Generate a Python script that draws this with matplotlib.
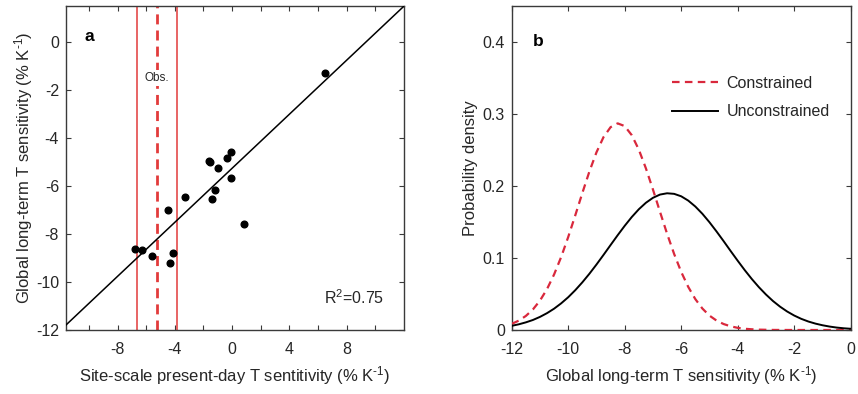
import numpy as np
import matplotlib
matplotlib.use("Agg")
import matplotlib.pyplot as plt

plt.rcParams['font.family'] = ['Liberation Sans', 'DejaVu Sans']
plt.rcParams['axes.unicode_minus'] = False
plt.rcParams['mathtext.fontset'] = 'custom'
plt.rcParams['mathtext.rm'] = 'Liberation Sans'
plt.rcParams['mathtext.it'] = 'Liberation Sans:italic'
plt.rcParams['mathtext.bf'] = 'Liberation Sans:bold'

# ---------------- Panel a data ----------------
site_sens = [6.51, -1.61, -1.52, -0.06, -0.36, -0.96, -0.10, -1.17, -1.41,
             -3.31, -4.47, 0.80, -6.79, -6.30, -5.58, -4.12, -4.35]
global_sens = [-1.30, -4.96, -5.00, -4.57, -4.82, -5.25, -5.65, -6.17, -6.55,
               -6.47, -7.00, -7.57, -8.61, -8.67, -8.90, -8.79, -9.22]
fit_slope = 0.563
fit_intercept = -5.26
obs_mean = -5.23
obs_low = -6.63
obs_high = -3.84
r2_text = "R$^2$=0.75"

# ---------------- Panel b data ----------------
pdf_x = [-12.0, -11.75, -11.5, -11.25, -11.0, -10.75, -10.5, -10.25, -10.0,
         -9.75, -9.5, -9.25, -9.0, -8.75, -8.5, -8.25, -8.0, -7.75, -7.5,
         -7.25, -7.0, -6.75, -6.5, -6.25, -6.0, -5.75, -5.5, -5.25, -5.0,
         -4.75, -4.5, -4.25, -4.0, -3.75, -3.5, -3.25, -3.0, -2.75, -2.5,
         -2.25, -2.0, -1.75, -1.5, -1.25, -1.0, -0.75, -0.5, -0.25, 0.0]
constrained = [0.0085, 0.0130, 0.0195, 0.0285, 0.0408, 0.0568, 0.0771, 0.1013,
               0.1291, 0.1592, 0.1902, 0.2201, 0.2467, 0.2679, 0.2817, 0.2870,
               0.2832, 0.2706, 0.2505, 0.2246, 0.1951, 0.1641, 0.1337, 0.1056,
               0.0807, 0.0598, 0.0429, 0.0298, 0.0200, 0.0131, 0.0083, 0.0051,
               0.0030, 0.0017, 0.0010, 0.0005, 0.0003, 0.0001, 0.00005, 0.00002,
               0.00001, 0.0, 0.0, 0.0, 0.0, 0.0, 0.0, 0.0, 0.0]
unconstrained = [0.0058, 0.0079, 0.0106, 0.0139, 0.0182, 0.0234, 0.0296, 0.0370,
                 0.0455, 0.0553, 0.0662, 0.0781, 0.0909, 0.1043, 0.1180, 0.1316,
                 0.1447, 0.1569, 0.1677, 0.1767, 0.1836, 0.1881, 0.1899, 0.1891,
                 0.1857, 0.1797, 0.1715, 0.1614, 0.1497, 0.1369, 0.1235, 0.1097,
                 0.0962, 0.0831, 0.0708, 0.0595, 0.0493, 0.0402, 0.0324, 0.0257,
                 0.0201, 0.0155, 0.0118, 0.0089, 0.0066, 0.0048, 0.0034, 0.0024,
                 0.0017]

a_xticks = [-10, -8, -6, -4, -2, 0, 2, 4, 6, 8, 10]
a_xlabels = ['', '-8', '', '-4', '', '0', '', '4', '', '8', '']
a_yticks = [-12, -10, -8, -6, -4, -2, 0]
b_xticks = [-12, -10, -8, -6, -4, -2, 0]
b_yticks = [0, 0.1, 0.2, 0.3, 0.4]

W, H = 858, 394
fig = plt.figure(figsize=(W / 100, H / 100), dpi=100)

txt_col = '#262626'
frame_col = '#3a3a3a'
red_obs = '#e23b3b'
red_pdf = '#d9283c'
fs = 11.5
fs_lab = 12
sup = 'K$^{\\text{-}1}$'


def style(ax):
    for s in ax.spines.values():
        s.set_color(frame_col)
        s.set_linewidth(1.0)
    ax.tick_params(direction='in', top=True, right=True, length=3.5,
                   width=0.8, colors=frame_col, labelcolor=txt_col,
                   labelsize=fs)
    ax.tick_params(axis='x', pad=9)
    ax.tick_params(axis='y', pad=5)


# ---- panel a ----
axa = fig.add_axes([66 / W, 1 - 330 / H, (404 - 66) / W, (330 - 6) / H])
xlim_a = (-11.6, 12.0)
axa.set_xlim(*xlim_a)
axa.set_ylim(-12, 1.5)
xx = np.array(xlim_a)
axa.plot(xx, fit_intercept + fit_slope * xx, color='black', lw=1.1, zorder=3)
axa.axvline(obs_low, color=red_obs, lw=1.1, zorder=2)
axa.axvline(obs_high, color=red_obs, lw=1.1, zorder=2)
axa.axvline(obs_mean, color=red_obs, lw=2.0, linestyle=(0, (3.6, 2.2)), zorder=2)
axa.plot(site_sens, global_sens, 'o', color='black', ms=4.8, zorder=4)
axa.text(obs_mean, -1.5, 'Obs.', ha='center', va='center', fontsize=8.5,
         color=txt_col, zorder=5,
         bbox=dict(facecolor='white', edgecolor='none', pad=1.5))
axa.text(6.4, -10.9, r2_text, ha='left', va='baseline', fontsize=fs, color=txt_col)
axa.text(-10.3, 0.05, 'a', fontsize=12.5, fontweight='bold', color='black',
         ha='left', va='baseline')
axa.set_xticks(a_xticks)
axa.set_xticklabels(a_xlabels)
axa.set_yticks(a_yticks)
style(axa)
axa.set_xlabel('Site-scale present-day T sentitivity (% ' + sup + ')',
               fontsize=fs_lab, color=txt_col, labelpad=5)
axa.set_ylabel('Global long-term T sensitivity (% ' + sup + ')',
               fontsize=fs_lab, color=txt_col, labelpad=1)

# ---- panel b ----
axb = fig.add_axes([511.7 / W, 1 - 330 / H, (850.7 - 511.7) / W, (330 - 6) / H])
axb.set_xlim(-12, 0)
axb.set_ylim(0, 0.45)
axb.plot(pdf_x, constrained, color=red_pdf, lw=1.6,
         linestyle=(0, (3.4, 2.4)), label='Constrained', zorder=3)
axb.plot(pdf_x, unconstrained, color='black', lw=1.4, label='Unconstrained',
         zorder=3)
axb.set_xticks(b_xticks)
axb.set_yticks(b_yticks)
axb.set_yticklabels(['0', '0.1', '0.2', '0.3', '0.4'])
style(axb)
axb.text(-11.25, 0.395, 'b', fontsize=12.5, fontweight='bold', color='black',
         ha='left', va='baseline')
leg = axb.legend(loc='upper left', bbox_to_anchor=(0.473, 0.785), frameon=False,
                 fontsize=fs, handlelength=2.9, handletextpad=0.5,
                 labelspacing=0.85, borderpad=0.0, borderaxespad=0.0)
for t in leg.get_texts():
    t.set_color(txt_col)
axb.set_xlabel('Global long-term T sensitivity (% ' + sup + ')',
               fontsize=fs_lab, color=txt_col, labelpad=5)
axb.set_ylabel('Probability density', fontsize=fs_lab, color=txt_col, labelpad=3)

fig.savefig('out.png', dpi=100)
